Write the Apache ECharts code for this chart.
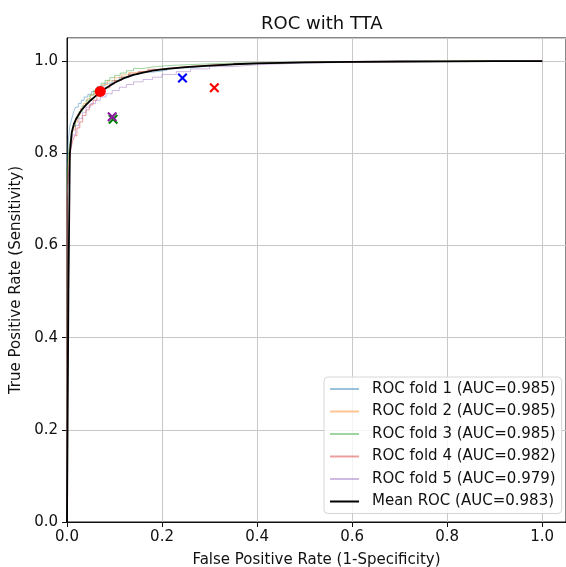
<!DOCTYPE html>
<html>
<head>
<meta charset="utf-8">
<script src="https://cdn.jsdelivr.net/npm/echarts@6/dist/echarts.min.js"></script>
<style>
  html, body { margin: 0; padding: 0; background: #fff; }
  #main { width: 566px; height: 567px; }
</style>
</head>
<body>
<div id="main"></div>
<script>
// ROC fold curves
var fold1Fpr = [0, 0, 0.003, 0.006, 0.01, 0.014, 0.018, 0.024, 0.03, 0.036, 0.044, 0.052, 0.06, 0.07, 0.08, 0.095, 0.11, 0.13, 0.15, 0.18, 0.21, 0.25, 0.3, 0.36, 0.42, 0.5, 0.6, 0.7, 0.85, 1.0];
var fold1Tpr = [0, 0.62, 0.78, 0.83, 0.86, 0.875, 0.89, 0.9, 0.908, 0.915, 0.922, 0.928, 0.934, 0.94, 0.946, 0.952, 0.958, 0.965, 0.971, 0.976, 0.98, 0.985, 0.989, 0.993, 0.995, 0.997, 0.998, 0.999, 1.0, 1.0];

var fold2Fpr = [0, 0, 0.004, 0.008, 0.012, 0.017, 0.022, 0.028, 0.035, 0.042, 0.05, 0.058, 0.066, 0.075, 0.085, 0.1, 0.115, 0.13, 0.15, 0.17, 0.2, 0.24, 0.28, 0.33, 0.4, 0.48, 0.58, 0.7, 0.85, 1.0];
var fold2Tpr = [0, 0.58, 0.74, 0.8, 0.83, 0.85, 0.868, 0.884, 0.897, 0.908, 0.918, 0.927, 0.935, 0.942, 0.949, 0.957, 0.964, 0.97, 0.975, 0.979, 0.983, 0.987, 0.99, 0.993, 0.995, 0.997, 0.998, 0.999, 1.0, 1.0];

var fold3Fpr = [0, 0, 0.004, 0.008, 0.012, 0.018, 0.025, 0.032, 0.04, 0.048, 0.056, 0.064, 0.072, 0.08, 0.09, 0.1, 0.112, 0.125, 0.14, 0.16, 0.18, 0.21, 0.25, 0.3, 0.36, 0.44, 0.54, 0.66, 0.8, 1.0];
var fold3Tpr = [0, 0.6, 0.76, 0.81, 0.835, 0.858, 0.876, 0.89, 0.903, 0.915, 0.926, 0.936, 0.945, 0.952, 0.958, 0.964, 0.969, 0.974, 0.979, 0.984, 0.987, 0.99, 0.992, 0.994, 0.996, 0.997, 0.998, 0.999, 1.0, 1.0];

var fold4Fpr = [0, 0, 0.004, 0.008, 0.012, 0.016, 0.021, 0.027, 0.033, 0.04, 0.047, 0.055, 0.063, 0.071, 0.08, 0.09, 0.1, 0.115, 0.13, 0.15, 0.17, 0.2, 0.24, 0.28, 0.33, 0.4, 0.5, 0.62, 0.78, 1.0];
var fold4Tpr = [0, 0.55, 0.7, 0.77, 0.81, 0.826, 0.838, 0.855, 0.868, 0.882, 0.894, 0.905, 0.915, 0.924, 0.933, 0.942, 0.95, 0.958, 0.965, 0.972, 0.977, 0.982, 0.986, 0.989, 0.992, 0.995, 0.997, 0.998, 0.999, 1.0];

var fold5Fpr = [0, 0, 0.004, 0.008, 0.012, 0.018, 0.025, 0.032, 0.04, 0.05, 0.06, 0.07, 0.082, 0.095, 0.11, 0.125, 0.14, 0.16, 0.18, 0.2, 0.23, 0.26, 0.3, 0.35, 0.4, 0.48, 0.58, 0.7, 0.85, 1.0];
var fold5Tpr = [0, 0.58, 0.7, 0.77, 0.81, 0.84, 0.86, 0.875, 0.888, 0.9, 0.908, 0.915, 0.922, 0.929, 0.936, 0.943, 0.949, 0.955, 0.96, 0.965, 0.971, 0.977, 0.983, 0.988, 0.992, 0.995, 0.997, 0.998, 0.999, 1.0];

// mean ROC
var meanFpr = [0, 0.003, 0.006, 0.01, 0.015, 0.02, 0.03, 0.04, 0.05, 0.06, 0.07, 0.08, 0.1, 0.12, 0.14, 0.16, 0.18, 0.2, 0.25, 0.3, 0.35, 0.4, 0.5, 0.6, 0.7, 0.8, 0.9, 1.0];
var meanTpr = [0, 0.5, 0.8, 0.845, 0.865, 0.876, 0.893, 0.905, 0.915, 0.924, 0.933, 0.94, 0.953, 0.963, 0.97, 0.975, 0.979, 0.982, 0.987, 0.99, 0.993, 0.995, 0.997, 0.998, 0.999, 0.9995, 1.0, 1.0];

var foldNames = ['ROC fold 1 (AUC=0.985)', 'ROC fold 2 (AUC=0.985)', 'ROC fold 3 (AUC=0.985)', 'ROC fold 4 (AUC=0.982)', 'ROC fold 5 (AUC=0.979)'];
var meanName = 'Mean ROC (AUC=0.983)';

// single operating points
var pointFpr = [0.243, 0.310, 0.097, 0.095];
var pointTpr = [0.963, 0.942, 0.874, 0.879];
var pointColors = ['#0000ff', '#ff0000', '#008000', '#8b1a9e'];
var dotFpr = [0.070];
var dotTpr = [0.934];

var ticks = [0, 0.2, 0.4, 0.6, 0.8, 1.0];

var foldColors = ['rgba(31,119,180,0.45)', 'rgba(255,127,14,0.45)', 'rgba(44,160,44,0.45)', 'rgba(214,39,40,0.45)', 'rgba(148,103,189,0.45)'];
var font = 'DejaVu Sans';
var xMark = 'path://M0,1.5 L1.5,0 L5,3.5 L8.5,0 L10,1.5 L6.5,5 L10,8.5 L8.5,10 L5,6.5 L1.5,10 L0,8.5 L3.5,5 Z';

function pairs(xs, ys) {
    return xs.map(function (x, i) { return [x, ys[i]]; });
}

var foldData = [pairs(fold1Fpr, fold1Tpr), pairs(fold2Fpr, fold2Tpr), pairs(fold3Fpr, fold3Tpr), pairs(fold4Fpr, fold4Tpr), pairs(fold5Fpr, fold5Tpr)];

var series = foldData.map(function (d, i) {
    return {
        name: foldNames[i],
        type: 'line',
        data: d,
        step: 'start',
        showSymbol: false,
        symbol: 'none',
        color: foldColors[i],
        lineStyle: { width: 1, color: foldColors[i] },
        z: 2
    };
});
series.push({
    name: meanName,
    type: 'line',
    data: pairs(meanFpr, meanTpr),
    showSymbol: false,
    symbol: 'none',
    color: '#000',
    lineStyle: { width: 1.8, color: '#000' },
    z: 3
});
pointFpr.forEach(function (x, i) {
    series.push({
        type: 'scatter',
        data: [[x, pointTpr[i]]],
        symbol: xMark,
        symbolSize: 10,
        itemStyle: { color: pointColors[i], opacity: 1 },
        z: 4
    });
});
series.push({
    type: 'scatter',
    data: pairs(dotFpr, dotTpr),
    symbol: 'circle',
    symbolSize: 11,
    itemStyle: { color: '#ff0000', opacity: 1 },
    z: 5
});

var myChart = echarts.init(document.getElementById('main'), null, { renderer: 'canvas' });
var option = {
    animation: false,
    backgroundColor: '#fff',
    title: {
        text: 'ROC with TTA',
        left: 256,
        top: 10,
        textStyle: { fontFamily: font, fontSize: 18, fontWeight: 'normal', color: '#111' }
    },
    grid: {
        left: 67, right: 0, top: 38, bottom: 45,
        outerBoundsMode: 'none',
        containLabel: false,
        show: true, borderColor: '#111', borderWidth: 1, backgroundColor: 'transparent'
    },
    legend: {
        orient: 'vertical',
        left: 324,
        top: 377,
        data: foldNames.concat([meanName]),
        icon: 'rect',
        itemWidth: 29,
        itemHeight: 2,
        itemGap: 6.5,
        padding: [4, 6, 4, 6],
        backgroundColor: 'rgba(255,255,255,0.8)',
        borderColor: '#d6d6d6',
        borderWidth: 1,
        borderRadius: 4,
        textStyle: { fontFamily: font, fontSize: 15, color: '#111', lineHeight: 16, padding: [0, 0, 0, 8] },
        z: 10
    },
    xAxis: {
        type: 'value',
        min: 0, max: 1.05, interval: 0.2,
        name: 'False Positive Rate (1-Specificity)',
        nameLocation: 'middle',
        nameGap: 31,
        nameTextStyle: { fontFamily: font, fontSize: 15, color: '#111' },
        axisLine: { show: true, lineStyle: { color: '#111', width: 1 } },
        axisTick: { show: true, length: 5, lineStyle: { color: '#111' } },
        axisLabel: {
            fontFamily: font, fontSize: 15, color: '#111', margin: 8,
            showMaxLabel: false,
            formatter: function (v) { return ticks.indexOf(+v.toFixed(1)) >= 0 ? v.toFixed(1) : ''; }
        },
        splitLine: { show: true, lineStyle: { color: '#c8c8c8', width: 1 } }
    },
    yAxis: {
        type: 'value',
        min: 0, max: 1.05, interval: 0.2,
        name: 'True Positive Rate (Sensitivity)',
        nameLocation: 'middle',
        nameGap: 39,
        nameTextStyle: { fontFamily: font, fontSize: 15, color: '#111' },
        axisLine: { show: true, lineStyle: { color: '#111', width: 1 } },
        axisTick: { show: true, length: 5, lineStyle: { color: '#111' } },
        axisLabel: {
            fontFamily: font, fontSize: 15, color: '#111', margin: 9,
            showMaxLabel: false,
            formatter: function (v) { return v.toFixed(1); }
        },
        splitLine: { show: true, lineStyle: { color: '#c8c8c8', width: 1 } }
    },
    series: series
};
myChart.setOption(option);
</script>
</body>
</html>
